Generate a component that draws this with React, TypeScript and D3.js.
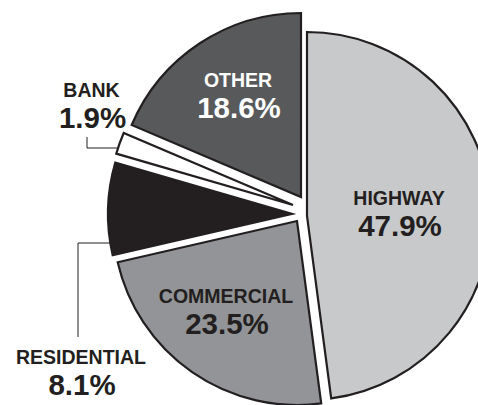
import React from "react";
import * as d3 from "d3";

const categories = ["HIGHWAY", "COMMERCIAL", "RESIDENTIAL", "BANK", "OTHER"];
const values = [47.9, 23.5, 8.1, 1.9, 18.6];

// styling / layout (not data)
const fills = ["#c8c9cb", "#929497", "#231f20", "#ffffff", "#58595b"];
const textColors = ["#231f20", "#231f20", "#231f20", "#231f20", "#ffffff"];
const explode: [number, number][] = [[7, 7], [-3, 12], [-8, 5], [-7, -4], [1, -12]];
// label anchor: [x, baseline of name]
const labelAnchor: [number, number][] = [[399, 205], [226, 303], [81, 364], [91.5, 97], [238, 87]];

const W = 478;
const H = 405;
const CX = 300;
const CY = 209;
const R = 184;

export default function App() {
  const pie = d3.pie<number>().sort(null).value((d) => d)(values);
  const arc = d3.arc<d3.PieArcDatum<number>>().innerRadius(0).outerRadius(R);
  const ink = "#231f20";
  return (
    <svg
      width={W}
      height={H}
      style={{ position: "absolute", left: 0, top: 0, background: "#fff" }}
      fontFamily="'Liberation Sans', Arial, Helvetica, sans-serif"
      fontWeight="bold"
    >
      {/* leader lines */}
      <polyline points="87,137 87,148 118,148" fill="none" stroke={ink} strokeWidth={1} />
      <polyline points="78,337 78,243 111,243" fill="none" stroke={ink} strokeWidth={1} />
      {pie.map((p, i) => (
        <path
          key={categories[i]}
          d={arc(p) || ""}
          transform={`translate(${CX + explode[i][0]},${CY + explode[i][1]})`}
          fill={fills[i]}
          stroke={ink}
          strokeWidth={2.2}
          strokeLinejoin="miter"
        />
      ))}
      {categories.map((c, i) => (
        <g key={c} fill={textColors[i]} textAnchor="middle">
          <text x={labelAnchor[i][0]} y={labelAnchor[i][1]} fontSize={19.5}>
            {c}
          </text>
          <text x={labelAnchor[i][0] + 1} y={labelAnchor[i][1] + 30.5} fontSize={29.5}>
            {values[i].toFixed(1)}%
          </text>
        </g>
      ))}
    </svg>
  );
}
